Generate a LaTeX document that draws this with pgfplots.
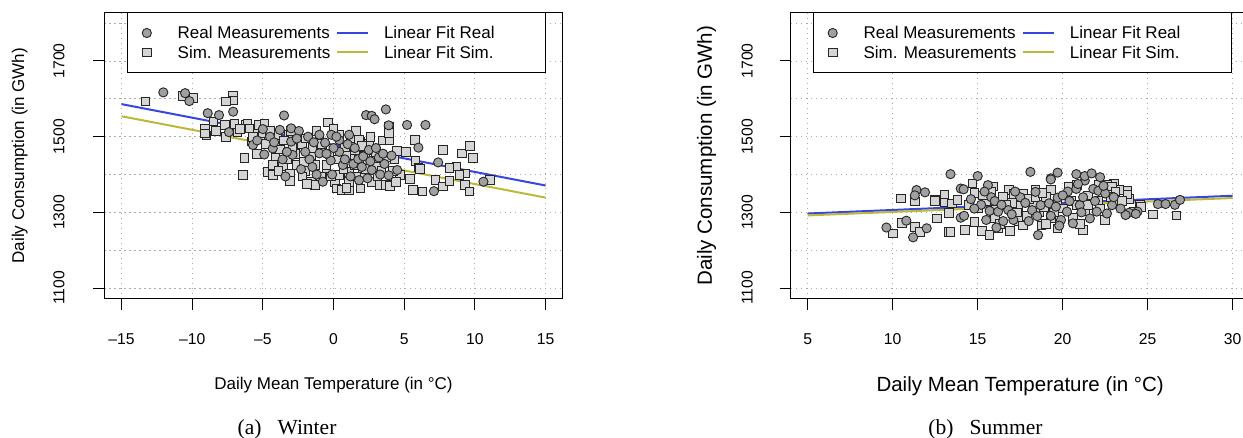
\documentclass[border=0pt]{standalone}
\usepackage{pgfplots}
\pgfplotsset{compat=1.18}
\usepackage{fontspec}
\setmainfont{Liberation Sans}
\newfontfamily\capfont{Liberation Serif}
\definecolor{fitblue}{RGB}{55,70,225}
\definecolor{fitolive}{RGB}{188,184,58}
\definecolor{circfill}{RGB}{160,160,160}
\definecolor{sqfill}{RGB}{212,212,212}
\definecolor{gridgray}{RGB}{170,170,170}
\pgfplotsset{
  markleg/.style={legend image code/.code={\path (0pt,0pt) (30pt,0pt); \draw[mark repeat=2,mark phase=2,##1] plot coordinates {(0pt,0pt) (15pt,0pt) (30pt,0pt)};}},
  lineleg/.style={legend image code/.code={\draw[##1] (0pt,0pt) -- (31pt,0pt);}},
  circ/.style={only marks, mark=*, mark size=4.6pt, mark options={fill=circfill, draw=black!85, line width=0.9pt}},
  sq/.style={only marks, mark=square*, mark size=4.3pt, mark options={fill=sqfill, draw=black!85, line width=0.9pt}},
  rstyle/.style={
    scale only axis, height=286.2pt,
    ymin=1072, ymax=1828,
    ytick={1100,1300,1500,1700}, yticklabels={1100,1300,1500,1700},
    minor ytick={1200,1400,1600,1800},
    grid=both,
    major grid style={gridgray, line width=0.9pt, dash pattern=on 1.2pt off 3.8pt},
    minor grid style={gridgray, line width=0.9pt, dash pattern=on 1.2pt off 3.8pt},
    minor tick length=0pt,
    tick align=outside, major tick length=11pt,
    tick pos=left,
    axis line style={line width=1pt},
    every tick/.style={black, line width=1pt},
    tick label style={font=\fontsize{15.7}{18}\selectfont, inner sep=0pt},
    yticklabel style={rotate=90, anchor=base},
    xticklabel style={anchor=base},
    xticklabel shift=35pt,
    legend columns=2, legend cell align=left,
    legend style={anchor=north west,
      draw=black, line width=1pt, fill=white, inner xsep=4pt, inner ysep=10.3pt,
      font=\fontsize{17}{19}\selectfont,
      nodes={inner sep=0pt, text height=15.5pt, text depth=3.9pt},
      column sep=0pt, row sep=0pt,
      /tikz/column 1/.style={column sep=15.4pt},
      /tikz/column 2/.style={column sep=6pt},
      /tikz/column 3/.style={column sep=14.6pt}},
  }
}
\begin{document}
\begin{tikzpicture}
\useasboundingbox (0pt,0pt) rectangle (1243pt,437pt);
% ---------------- Winter ----------------
\begin{axis}[rstyle,
  at={(104.5pt,138.3pt)}, anchor=south west, width=458.1pt,
  xmin=-16.2, xmax=16.2,
  yticklabel shift=29pt,
  xtick={-15,-10,-5,0,5,10,15},
  xticklabels={\textendash15,\textendash10,\textendash5,0,5,10,15},
  xlabel={Daily Mean Temperature (in °C)},
  ylabel={Daily Consumption (in GWh)},
  every axis x label/.style={at={(axis description cs:0.5,-0.3155)}, anchor=base, inner sep=0pt, font=\fontsize{17}{20}\selectfont},
  every axis y label/.style={at={(axis description cs:-0.1757,0.5)}, rotate=90, anchor=base, inner sep=0pt, font=\fontsize{17}{20}\selectfont},
  legend style={at={(axis description cs:0.0487,1)}},
]
\addlegendimage{circ, markleg}\addlegendentry{Real Measurements}
\addlegendimage{fitblue, line width=2pt, lineleg}\addlegendentry{Linear Fit Real\hspace*{47.4pt}}
\addlegendimage{sq, markleg}\addlegendentry{Sim. Measurements}
\addlegendimage{fitolive, line width=2pt, lineleg}\addlegendentry{Linear Fit Sim.}
\addplot[sq, forget plot] coordinates {
(-13.3,1593) (-10.7,1608) (-9.9,1603) (-7.1,1608) (-7.1,1596) (-7.6,1593) (-9.1,1522) (-9.0,1503) (-8.5,1540) (-7.6,1500) (-7.7,1531) (-6.8,1512) (-6.2,1531) (-6.3,1444) (-6.4,1399) (-7.0,1533)
(-0.4,1538) (-6.1,1535) (-5.3,1531) (-4.9,1535) (-5.5,1508) (-4.6,1495) (-5.4,1455) (-4.65,1407) (-4.3,1399) (-3.6,1421) (-3.1,1403) (-3.1,1383) (-2.6,1425) (-2.1,1434) (-2.4,1484) (-1.6,1381) (-1.3,1372) (-0.5,1403) (-0.5,1425) (0.1,1381) (0.2,1363) (0.6,1359) (1.1,1359) (0.4,1399) (1.1,1407) (1.2,1452) (1.9,1363) (1.9,1487) (2.5,1482) (2.8,1464) (2.7,1381) (3.3,1372) (3.7,1372) (3.7,1446) (3.5,1490) (2.85,1429) (1.8,1491) (1.2,1495) (0.4,1505) (-0.9,1460) (-1.6,1452) (-2.25,1479) (-3.8,1466) (-4.1,1444) (-4.3,1425) (-5.8,1487) (-5.95,1522) (-2.7,1455) (-1.3,1425) (1.5,1425) (2.1,1399) (1.1,1381)
(7.75,1465) (9.1,1456) (9.65,1476) (9.85,1444) (5.8,1436) (6.0,1419) (5.75,1491) (5.6,1359) (6.3,1355) (7.2,1386) (7.75,1368) (8.2,1383) (8.7,1421) (9.3,1403) (9.3,1372) (9.6,1355) (8.2,1418) (11.06,1385) (5.4,1389) (4.7,1399) (4.0,1370) (4.5,1462) (5.1,1460) (3.95,1490) (6.1,1414) (8.9,1399)
(-9.1,1508) (-8.3,1515) (-6.6,1520) (-5.0,1510) (-3.2,1505) (-1.0,1490) (0.8,1470) (2.2,1450) (3.0,1420) (4.2,1410) (4.3,1440) (-2.0,1410) (-0.2,1395) (1.6,1395) (3.1,1395) (4.4,1380) (3.9,1525) (3.9,1510)
(-5.7,1500) (-4.8,1480) (-4.0,1505) (-3.5,1490) (-2.9,1470) (-2.0,1495) (-1.5,1470) (-0.8,1480) (-0.3,1455) (0.3,1440) (0.9,1450) (1.5,1465) (2.0,1475) (2.4,1430) (3.0,1460) (3.4,1410) (-3.9,1410) (-3.3,1440) (-2.2,1395) (-0.9,1395) (0.7,1415) (2.3,1415) (-1.9,1375) (0.9,1365) (-4.5,1515) (-3.0,1515) (-1.2,1515) (0.0,1520) (1.6,1515) (2.6,1500)
};
\addplot[circ, forget plot] coordinates {
(-12.04,1617) (-10.5,1615) (-10.2,1594) (-8.9,1562) (-8.1,1557) (-7.1,1566) (-7.4,1512)
(-3.5,1556) (-3.8,1518) (-3.0,1522) (-2.45,1515) (-1.8,1500) (-1.0,1505) (-0.16,1505) (0.4,1491) (1.1,1505) (2.3,1557) (2.7,1555) (2.9,1546) (3.7,1572) (3.9,1530) (-4.9,1453) (-5.7,1478) (-4.3,1469) (-2.9,1452) (-2.3,1414) (-1.2,1400) (-0.76,1381) (-1.7,1440) (-1.0,1456) (-0.2,1437) (0.4,1460) (0.66,1425) (1.4,1428) (1.75,1441) (1.8,1385) (2.1,1448) (2.7,1412) (3.3,1400) (3.6,1428) (3.9,1398) (-3.6,1440) (-3.0,1487) (-0.6,1484)
(5.2,1531) (6.5,1531) (6.0,1471) (7.4,1432) (7.1,1356) (10.6,1381) (4.5,1412)
(-5.4,1490) (-4.5,1500) (0.0,1470) (1.0,1480) (2.5,1465) (3.2,1445)
(-5.0,1520) (-4.2,1485) (-3.3,1460) (-2.6,1495) (-2.0,1460) (-1.4,1485) (-0.5,1455) (0.2,1500) (0.8,1440) (1.5,1470) (2.0,1420) (2.6,1435) (3.0,1470) (3.5,1455) (-1.5,1420) (-0.1,1400) (1.2,1395) (2.4,1390) (-3.4,1395) (4.1,1450)
};
\addplot[fitblue, line width=2pt, forget plot] coordinates {(-15,1586) (15,1371)};
\addplot[fitolive, line width=2pt, forget plot] coordinates {(-15,1554) (15,1339)};
\end{axis}
% ---------------- Summer ----------------
\begin{axis}[rstyle,
  at={(790.7pt,138.3pt)}, anchor=south west, width=459pt,
  xmin=4, xmax=31,
  yticklabel shift=27pt,
  xtick={5,10,15,20,25,30},
  xticklabels={5,10,15,20,25,30},
  xlabel={Daily Mean Temperature (in °C)},
  ylabel={Daily Consumption (in GWh)},
  every axis x label/.style={at={(axis description cs:0.5,-0.3236)}, anchor=base, inner sep=0pt, font=\fontsize{20.5}{24}\selectfont},
  every axis y label/.style={at={(axis description cs:-0.1715,0.5)}, rotate=90, anchor=base, inner sep=0pt, font=\fontsize{20.5}{24}\selectfont},
  legend style={at={(axis description cs:0.0479,1)}},
]
\addlegendimage{circ, markleg}\addlegendentry{Real Measurements}
\addlegendimage{fitblue, line width=2pt, lineleg}\addlegendentry{Linear Fit Real\hspace*{47.4pt}}
\addlegendimage{sq, markleg}\addlegendentry{Sim. Measurements}
\addlegendimage{fitolive, line width=2pt, lineleg}\addlegendentry{Linear Fit Sim.}
\addplot[sq, forget plot] coordinates {
(10.5,1337) (11.3,1329) (12.5,1333) (13.05,1346) (13.05,1326) (13.5,1324) (13.3,1298) (10.0,1244) (10.55,1272) (11.3,1262) (11.6,1249) (12.6,1284) (13.3,1249) (13.8,1333)
(14.8,1351) (14.7,1376) (15.9,1369) (16.85,1360) (17.1,1348) (17.7,1348) (18.4,1360) (19.3,1360) (20.35,1369) (20.85,1373) (22.1,1373) (23.0,1376) (23.3,1360) (23.8,1357) (23.9,1335) (24.55,1319) (25.3,1295) (14.25,1253) (15.25,1251) (15.7,1240) (16.2,1258) (16.9,1251) (17.4,1277) (17.65,1266) (18.75,1266) (19.3,1286) (19.7,1258) (20.6,1286) (21.2,1253) (22.5,1280) (23.2,1322) (14.8,1275) (16.05,1308) (17.4,1317) (18.3,1322) (19.7,1326) (21.3,1304) (22.1,1331) (24.2,1302)
(26.7,1292) (24.6,1315) (22.6,1374) (22.9,1368) (23.1,1355) (23.8,1347) (13.4,1249) (12.5,1331)
(15.5,1330) (16.5,1340) (18.0,1335) (19.0,1340) (20.5,1330) (21.5,1320) (15.0,1310) (17.0,1325) (18.6,1300) (20.0,1310)
(14.5,1320) (15.3,1345) (16.0,1285) (16.7,1320) (17.3,1300) (17.9,1290) (18.4,1340) (18.9,1315) (19.5,1300) (20.1,1345) (20.8,1320) (21.5,1345) (22.2,1310) (22.8,1340) (23.5,1330) (16.3,1270) (19.0,1270) (21.0,1270) (15.8,1355) (18.8,1352)
};
\addplot[circ, forget plot] coordinates {
(9.63,1260) (10.8,1278) (11.2,1234) (12.0,1258) (11.4,1359) (11.3,1345) (11.9,1353) (14.0,1363) (14.0,1286)
(14.17,1361) (14.6,1335) (15.6,1372) (15.8,1340) (14.2,1291) (15.5,1280) (15.7,1304) (16.2,1302) (16.5,1277) (16.8,1306) (17.1,1280) (18.0,1277) (18.2,1306) (18.4,1354) (18.7,1319) (18.55,1240) (19.2,1324) (19.3,1291) (19.7,1339) (19.9,1280) (20.25,1302) (20.3,1355) (20.6,1271) (20.8,1362) (21.0,1319) (21.3,1384) (21.8,1362) (21.6,1284) (22.0,1302) (22.1,1357) (22.6,1297) (22.9,1319) (23.9,1299) (24.4,1302) (25.6,1322) (26.05,1322) (19.3,1390)
(13.4,1401) (15.0,1396) (18.1,1407) (19.3,1387) (19.7,1405) (20.8,1401) (21.3,1396) (21.7,1403) (22.2,1393) (23.7,1293) (24.3,1296) (26.6,1320) (26.9,1333)
(16.0,1330) (17.5,1340) (20.0,1345) (21.2,1340) (22.5,1350) (17.0,1295) (15.2,1320)
(14.8,1310) (15.4,1355) (16.4,1320) (17.2,1355) (17.8,1325) (18.5,1290) (19.6,1315) (20.4,1330) (21.1,1300) (21.9,1330) (22.4,1370) (23.0,1340) (16.1,1260) (19.8,1265) (23.4,1310) (20.9,1375)
};
\addplot[fitblue, line width=2pt, forget plot] coordinates {(5,1297) (30,1344)};
\addplot[fitolive, line width=2pt, forget plot] coordinates {(5,1292) (30,1338)};
\end{axis}
\node[font=\capfont\fontsize{21.5}{24}\selectfont, anchor=base, inner sep=0pt] at (287pt,3pt) {(a)\hspace{0.75em}Winter};
\node[font=\capfont\fontsize{21.5}{24}\selectfont, anchor=base, inner sep=0pt] at (985.5pt,3pt) {(b)\hspace{0.75em}Summer};
\end{tikzpicture}
\end{document}
